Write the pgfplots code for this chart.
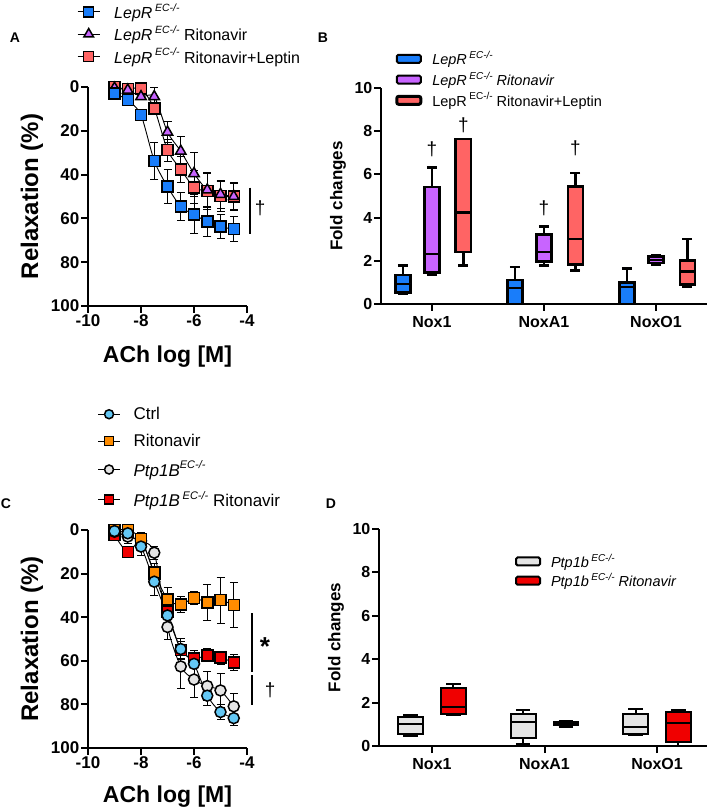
\documentclass[border=0pt]{standalone}
\usepackage{fontspec}
\setmainfont{Liberation Sans}
\usepackage{pgfplots}
\pgfplotsset{compat=1.18}
\usepgfplotslibrary{statistics}

\definecolor{lepblue}{RGB}{25,125,250}
\definecolor{leppurple}{RGB}{200,100,255}
\definecolor{lepred}{RGB}{255,100,100}
\definecolor{ctrlblue}{RGB}{100,200,245}
\definecolor{ritorange}{RGB}{255,140,0}
\definecolor{ptpgrey}{RGB}{228,228,228}
\definecolor{ptpred}{RGB}{240,0,0}

\newcommand{\sups}[2]{\raisebox{0.45em}{\fontsize{#1}{#1}\selectfont #2}}

\pgfplotsset{
  gpaxis/.style={
    scale only axis,
    axis lines=left,
    axis line style={line width=2pt,-},
    every tick/.style={black, line width=2pt},
    major tick length=7pt,
    tick align=outside,
    /pgf/number format/assume math mode=true,
    clip=false,
    ticklabel style={inner sep=1.5pt},
  },
  curve/.style={black, line width=0.9pt, smooth, tension=0.45,
    error bars/y dir=both, error bars/y explicit,
    error bars/error bar style={black, line width=0.9pt},
    error bars/error mark options={black, line width=0.9pt, mark size=4pt, rotate=90}},
}

\pgfplotstableread{
x y e
-9 2.9 1
-8.5 6.0 1.5
-8 12.8 1.5
-7.5 33.7 8.5
-7 45.5 7.8
-6.5 54.6 6.5
-6 58.3 8.5
-5.5 61.4 6.8
-5 63.8 5.5
-4.5 64.9 5.7
}\lepA
\pgfplotstableread{
x y e
-9 0.5 0.5
-8.5 1.4 1
-8 4.4 1.5
-7.5 4.4 4.3
-7 20.6 4.8
-6.5 29.3 6.7
-6 39.5 9.5
-5.5 47 8
-5 49 6.5
-4.5 50 6
}\lepB
\pgfplotstableread{
x y e
-9 0 0.5
-8.5 1 1
-8 0.8 1
-7.5 9.8 2.5
-7 28.8 5
-6.5 37.6 6
-6 45.8 7.5
-5.5 47.6 8.2
-5 49.8 6.8
-4.5 50.1 6.3
}\lepC
\pgfplotstableread{
x y e
-9 0.5 0.5
-8.5 1.5 1
-8 7.6 4
-7.5 23.7 6.5
-7 39.2 4
-6.5 54.6 5
-6 61.4 6
-5.5 76 4.5
-5 83.5 3.5
-4.5 86.3 3.5
}\ctrl
\pgfplotstableread{
x y e
-9 0 1
-8.5 0 1
-8 4.1 3
-7.5 19.5 4
-7 31.8 5.5
-6.5 34.2 3.5
-6 31.2 3
-5.5 33.2 8.4
-5 32.2 10.5
-4.5 34.4 10.2
}\rito
\pgfplotstableread{
x y e
-9 0.8 1
-8.5 3.0 3
-8 5 3
-7.5 10.4 3
-7 44.5 5.5
-6.5 62.6 10
-6 68.6 8
-5.5 71.6 6.5
-5 73.6 8
-4.5 80.9 5.8
}\ptp
\pgfplotstableread{
x y e
-9 2.3 1
-8.5 10.2 1.5
-8 5 2
-7.5 20 3
-7 37.3 3
-6.5 55 4
-6 59 3
-5.5 57.5 3
-5 58.5 3
-4.5 60.8 3.5
}\ptprito

\begin{document}
\begin{tikzpicture}[x=1pt,y=1pt]
\useasboundingbox (0,0) rectangle (709,809);

% panel letters
\node[font=\fontsize{14}{14}\selectfont\bfseries] at (15,771) {A};
\node[font=\fontsize{14}{14}\selectfont\bfseries] at (323,771) {B};
\node[font=\fontsize{14}{14}\selectfont\bfseries] at (6,305) {C};
\node[font=\fontsize{14}{14}\selectfont\bfseries] at (331,305) {D};

% ---------------- A ----------------
\begin{axis}[gpaxis, at={(88pt,503pt)}, anchor=south west,
  width=159pt, height=219pt,
  xmin=-10, xmax=-4, ymin=0, ymax=100, y dir=reverse,
  xtick={-10,-8,-6,-4}, ytick={0,20,40,60,80,100},
  ticklabel style={font=\fontsize{17}{17}\selectfont\bfseries},
  xlabel={ACh log [M]}, ylabel={Relaxation (\%)},
  xlabel style={font=\fontsize{23}{23}\selectfont\bfseries, at={(axis description cs:0.5,-0.233)}, anchor=center},
  ylabel style={font=\fontsize{24}{24}\selectfont\bfseries, at={(axis description cs:-0.352,0.5)}, anchor=center},
  legend style={at={(axis description cs:-0.088,1.40)}, anchor=north west, draw=none, fill=none,
    font=\fontsize{16}{18}\selectfont, row sep=2pt, nodes={inner sep=2pt},
    /tikz/every odd column/.append style={column sep=12pt}},
  legend cell align=left,
  legend image code/.code={\draw[mark repeat=2,mark phase=2,#1] plot coordinates {(0pt,0pt) (11pt,0pt) (22pt,0pt)};},
]
\addlegendimage{black, line width=1pt, mark=square*, mark size=5pt, mark options={fill=lepblue, draw=black, line width=1.5pt}}
\addlegendentry{\textit{LepR}\,\sups{10.5}{\textit{EC-/-}}}
\addlegendimage{black, line width=1pt, mark=triangle*, mark size=5.5pt, mark options={fill=leppurple, draw=black, line width=1.5pt}}
\addlegendentry{\textit{LepR}\,\sups{10.5}{\textit{EC-/-}} Ritonavir}
\addlegendimage{black, line width=1pt, mark=square*, mark size=5pt, mark options={fill=lepred, draw=black, line width=1.5pt}}
\addlegendentry{\textit{LepR}\,\sups{10.5}{\textit{EC-/-}} Ritonavir+Leptin}

\addplot[forget plot, curve, mark=square*, mark size=5.5pt, mark options={fill=lepred, draw=black, line width=1.5pt, solid}] table[x=x,y=y,y error=e] {\lepC};
\addplot[forget plot, curve, mark=triangle*, mark size=6pt, mark options={fill=leppurple, draw=black, line width=1.5pt, solid}] table[x=x,y=y,y error=e] {\lepB};
\addplot[forget plot, curve, mark=square*, mark size=5.5pt, mark options={fill=lepblue, draw=black, line width=1.5pt, solid}] table[x=x,y=y,y error=e] {\lepA};

\draw[black, line width=2pt] (axis cs:-3.89,45.9) -- (axis cs:-3.89,67.2);
\node[font=\fontsize{19}{19}\selectfont] at (axis cs:-3.5,55.3) {†};
\end{axis}

% ---------------- B ----------------
\begin{axis}[gpaxis, at={(381pt,505pt)}, anchor=south west,
  width=326pt, height=216pt,
  xmin=0.545, xmax=3.455, ymin=0, ymax=10,
  xtick={1,2,3}, xticklabels={Nox1,NoxA1,NoxO1}, ytick={0,2,4,6,8,10},
  yticklabel style={font=\fontsize{16}{16}\selectfont\bfseries},
  xticklabel style={font=\fontsize{16}{16}\selectfont\bfseries, inner sep=5pt},
  ylabel={Fold changes},
  ylabel style={font=\fontsize{17}{17}\selectfont\bfseries, at={(axis description cs:-0.132,0.5)}, anchor=center},
  legend style={at={(axis description cs:0.034,1.19)}, anchor=north west, draw=none, fill=none,
    font=\fontsize{14.5}{17}\selectfont, row sep=1.5pt, nodes={inner sep=2pt},
    /tikz/every odd column/.append style={column sep=8pt}},
  legend cell align=left,
  legend image code/.code={\draw[#1] (0pt,-4pt) rectangle (24pt,4pt);},
  boxplot/draw direction=y,
  boxplot/box extend=0.135, boxplot/whisker extend=0.09,
  boxplot/every box/.style={draw=black, line width=2.6pt},
  boxplot/every whisker/.style={draw=black, line width=2.4pt},
  boxplot/every median/.style={draw=black, line width=2.4pt},
  every axis plot/.append style={line width=2.5pt, draw=black},
]
\addlegendimage{fill=lepblue, draw=black, line width=2pt, rounded corners=1.5pt}
\addlegendentry{\textit{LepR}\,\sups{10}{\textit{EC-/-}}}
\addlegendimage{fill=leppurple, draw=black, line width=2pt, rounded corners=1.5pt}
\addlegendentry{\textit{LepR}\,\sups{10}{\textit{EC-/-}} \textit{Ritonavir}}
\addlegendimage{fill=lepred, draw=black, line width=3pt, rounded corners=2pt}
\addlegendentry{LepR\,\sups{10}{EC-/-} Ritonavir+Leptin}

\addplot[fill=lepblue, forget plot, boxplot prepared={draw position=0.74, lower whisker=0.46, lower quartile=0.54, median=0.93, upper quartile=1.34, upper whisker=1.78}] coordinates {};
\addplot[fill=leppurple, forget plot, boxplot prepared={draw position=1.0, lower whisker=1.34, lower quartile=1.47, median=2.32, upper quartile=5.41, upper whisker=6.31}] coordinates {};
\addplot[fill=lepred, forget plot, boxplot prepared={draw position=1.28, lower whisker=1.78, lower quartile=2.40, median=4.23, upper quartile=7.63, upper whisker=7.63}] coordinates {};
\addplot[fill=lepblue, forget plot, boxplot prepared={draw position=1.74, lower whisker=0, lower quartile=0, median=0.73, upper quartile=1.11, upper whisker=1.70}] coordinates {};
\addplot[fill=leppurple, forget plot, boxplot prepared={draw position=2.0, lower whisker=1.78, lower quartile=1.96, median=2.40, upper quartile=3.21, upper whisker=3.59}] coordinates {};
\addplot[fill=lepred, forget plot, boxplot prepared={draw position=2.28, lower whisker=1.55, lower quartile=1.84, median=3.0, upper quartile=5.44, upper whisker=6.06}] coordinates {};
\addplot[fill=lepblue, forget plot, boxplot prepared={draw position=2.74, lower whisker=0, lower quartile=0, median=0.80, upper quartile=1.0, upper whisker=1.65}] coordinates {};
\addplot[fill=leppurple, forget plot, boxplot prepared={draw position=3.0, lower whisker=1.81, lower quartile=1.89, median=2.04, upper quartile=2.19, upper whisker=2.27}] coordinates {};
\addplot[fill=lepred, forget plot, boxplot prepared={draw position=3.28, lower whisker=0.80, lower quartile=0.91, median=1.5, upper quartile=2.01, upper whisker=3.0}] coordinates {};

\node[font=\fontsize{19}{19}\selectfont] at (axis cs:1.0,7.18) {†};
\node[font=\fontsize{19}{19}\selectfont] at (axis cs:1.28,8.29) {†};
\node[font=\fontsize{19}{19}\selectfont] at (axis cs:2.0,4.44) {†};
\node[font=\fontsize{19}{19}\selectfont] at (axis cs:2.28,7.22) {†};
\end{axis}

% ---------------- C ----------------
\begin{axis}[gpaxis, at={(88pt,61pt)}, anchor=south west,
  width=159pt, height=218pt,
  xmin=-10, xmax=-4, ymin=0, ymax=100, y dir=reverse,
  xtick={-10,-8,-6,-4}, ytick={0,20,40,60,80,100},
  ticklabel style={font=\fontsize{17}{17}\selectfont\bfseries},
  xlabel={ACh log [M]}, ylabel={Relaxation (\%)},
  xlabel style={font=\fontsize{23}{23}\selectfont\bfseries, at={(axis description cs:0.5,-0.225)}, anchor=center},
  ylabel style={font=\fontsize{24}{24}\selectfont\bfseries, at={(axis description cs:-0.352,0.5)}, anchor=center},
  legend style={at={(axis description cs:0.04,1.582)}, anchor=north west, draw=none, fill=none,
    font=\fontsize{17}{20}\selectfont, row sep=9pt, nodes={inner sep=2pt},
    /tikz/every odd column/.append style={column sep=11pt}},
  legend cell align=left,
  legend image code/.code={\draw[mark repeat=2,mark phase=2,#1] plot coordinates {(0pt,0pt) (11pt,0pt) (22pt,0pt)};},
]
\addlegendimage{black, line width=1pt, mark=*, mark size=4.5pt, mark options={fill=ctrlblue, draw=black, line width=1.5pt}}
\addlegendentry{Ctrl}
\addlegendimage{black, line width=1pt, mark=square*, mark size=4.5pt, mark options={fill=ritorange, draw=black, line width=1.5pt}}
\addlegendentry{Ritonavir}
\addlegendimage{black, line width=1pt, mark=*, mark size=4.5pt, mark options={fill=ptpgrey, draw=black, line width=1.5pt}}
\addlegendentry{\textit{Ptp1B}\sups{11}{\textit{EC-/-}}}
\addlegendimage{black, line width=1pt, mark=square*, mark size=4.5pt, mark options={fill=ptpred, draw=black, line width=1.5pt}}
\addlegendentry{\textit{Ptp1B}\,\sups{11}{\textit{EC-/-}} Ritonavir}

\addplot[forget plot, curve, mark=square*, mark size=5.5pt, mark options={fill=ptpred, draw=black, line width=1.5pt, solid}] table[x=x,y=y,y error=e] {\ptprito};
\addplot[forget plot, curve, mark=*, mark size=5.5pt, mark options={fill=ptpgrey, draw=black, line width=1.5pt, solid}] table[x=x,y=y,y error=e] {\ptp};
\addplot[forget plot, curve, mark=square*, mark size=5.5pt, mark options={fill=ritorange, draw=black, line width=1.5pt, solid}] table[x=x,y=y,y error=e] {\rito};
\addplot[forget plot, curve, mark=*, mark size=5.5pt, mark options={fill=ctrlblue, draw=black, line width=1.5pt, solid}] table[x=x,y=y,y error=e] {\ctrl};

\draw[black, line width=2pt] (axis cs:-3.81,38.3) -- (axis cs:-3.81,65.1);
\draw[black, line width=2pt] (axis cs:-3.81,66.6) -- (axis cs:-3.81,80.4);
\node[font=\fontsize{26}{26}\selectfont\bfseries] at (axis cs:-3.32,53.5) {*};
\node[font=\fontsize{19}{19}\selectfont] at (axis cs:-3.13,73.4) {†};
\end{axis}

% ---------------- D ----------------
\begin{axis}[gpaxis, at={(379pt,63pt)}, anchor=south west,
  width=328pt, height=217pt,
  xmin=0.529, xmax=3.444, ymin=0, ymax=10,
  xtick={1,2,3}, xticklabels={Nox1,NoxA1,NoxO1}, ytick={0,2,4,6,8,10},
  yticklabel style={font=\fontsize{16}{16}\selectfont\bfseries},
  xticklabel style={font=\fontsize{16}{16}\selectfont\bfseries, inner sep=5pt},
  ylabel={Fold changes},
  ylabel style={font=\fontsize{17}{17}\selectfont\bfseries, at={(axis description cs:-0.131,0.5)}, anchor=center},
  legend style={at={(axis description cs:0.405,0.905)}, anchor=north west, draw=none, fill=none,
    font=\fontsize{14.5}{17}\selectfont, row sep=0pt, nodes={inner sep=2pt},
    /tikz/every odd column/.append style={column sep=8pt}},
  legend cell align=left,
  legend image code/.code={\draw[#1] (0pt,-4pt) rectangle (24pt,4pt);},
  boxplot/draw direction=y,
  boxplot/box extend=0.22, boxplot/whisker extend=0.13,
  boxplot/every box/.style={draw=black, line width=2pt},
  boxplot/every whisker/.style={draw=black, line width=2pt},
  boxplot/every median/.style={draw=black, line width=2pt},
  every axis plot/.append style={line width=2pt, draw=black},
]
\addlegendimage{fill=ptpgrey, draw=black, line width=2pt, rounded corners=1.5pt}
\addlegendentry{\textit{Ptp1b}\,\sups{10}{\textit{EC-/-}}}
\addlegendimage{fill=ptpred, draw=black, line width=2pt, rounded corners=1.5pt}
\addlegendentry{\textit{Ptp1b}\,\sups{10}{\textit{EC-/-}} \textit{Ritonavir}}

\addplot[fill=ptpgrey, forget plot, boxplot prepared={draw position=0.81, lower whisker=0.46, lower quartile=0.57, median=1.03, upper quartile=1.34, upper whisker=1.42}] coordinates {};
\addplot[fill=ptpred, forget plot, boxplot prepared={draw position=1.19, lower whisker=1.42, lower quartile=1.49, median=1.80, upper quartile=2.65, upper whisker=2.88}] coordinates {};
\addplot[fill=ptpgrey, forget plot, boxplot prepared={draw position=1.81, lower whisker=0.08, lower quartile=0.37, median=1.11, upper quartile=1.46, upper whisker=1.65}] coordinates {};
\addplot[fill=ptpred, forget plot, boxplot prepared={draw position=2.19, lower whisker=0.88, lower quartile=0.97, median=1.03, upper quartile=1.09, upper whisker=1.14}] coordinates {};
\addplot[fill=ptpgrey, forget plot, boxplot prepared={draw position=2.81, lower whisker=0.49, lower quartile=0.57, median=0.88, upper quartile=1.49, upper whisker=1.69}] coordinates {};
\addplot[fill=ptpred, forget plot, boxplot prepared={draw position=3.19, lower whisker=0, lower quartile=0.18, median=1.06, upper quartile=1.57, upper whisker=1.65}] coordinates {};
\end{axis}
\end{tikzpicture}
\end{document}
